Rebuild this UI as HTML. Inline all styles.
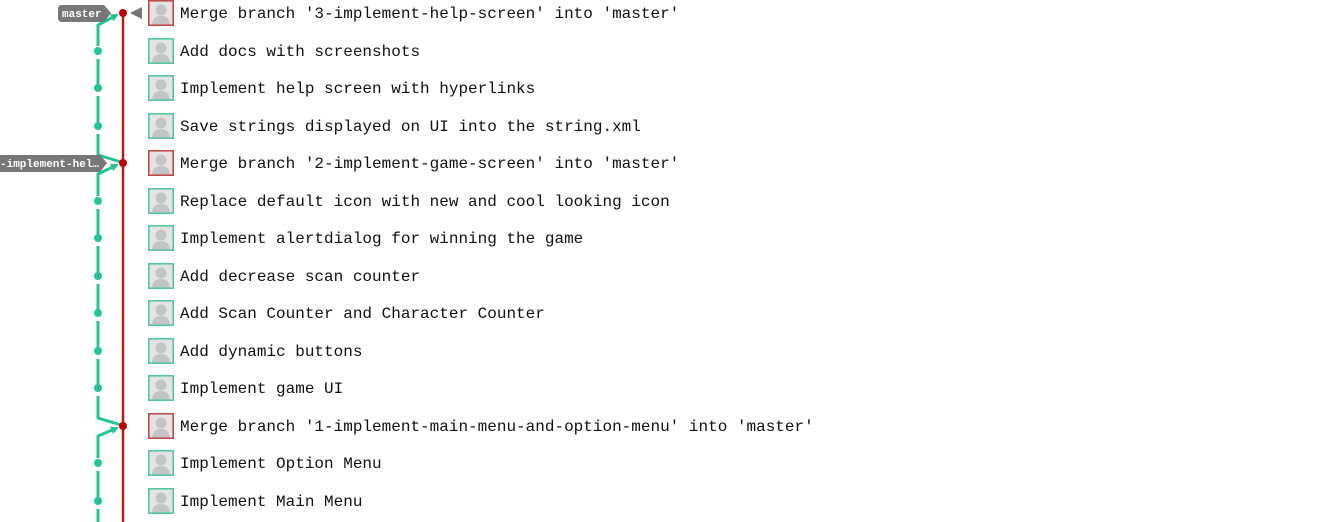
<!DOCTYPE html>
<html><head><style>
body{margin:0;background:#fff;width:1326px;height:522px;overflow:hidden}
svg{position:absolute;left:0;top:0}
text{font-family:"Liberation Mono",monospace}
.g{fill:none;stroke:#52c9a2;stroke-width:1.6}
.r{fill:none;stroke:#c44a4a;stroke-width:1.6}
</style></head><body>
<svg width="1326" height="522" viewBox="0 0 1326 522">
<defs>
<marker id="ah" markerWidth="8" markerHeight="8" refX="6" refY="4" orient="auto" markerUnits="userSpaceOnUse">
<path d="M0,0 L8,4 L0,8 z" fill="#1fc796"/>
</marker>
<g id="av">
<rect x="0" y="0" width="26" height="26" fill="#e4e4e4"/>
<circle cx="13" cy="10" r="5.5" fill="#c4c4c4"/>
<path d="M4,26 Q4,16 13,16 Q22,16 22,26 z" fill="#c4c4c4"/>
</g>
</defs>
<line x1="123" y1="13" x2="123" y2="522" stroke="#c01818" stroke-width="2.5"/>
<g stroke="#1fc796" stroke-width="3" fill="none">
<polyline points="98,46 98,25 117,15" marker-end="url(#ah)"/>
<line x1="98" y1="59" x2="98" y2="88"/>
<line x1="98" y1="96" x2="98" y2="126"/>
<polyline points="98,134 98,155 121,162"/>
<polyline points="98,196 98,174 117,165" marker-end="url(#ah)"/>
<line x1="98" y1="209" x2="98" y2="238"/>
<line x1="98" y1="246" x2="98" y2="276"/>
<line x1="98" y1="284" x2="98" y2="313"/>
<line x1="98" y1="321" x2="98" y2="351"/>
<line x1="98" y1="359" x2="98" y2="388"/>
<polyline points="98,396 98,418 121,425"/>
<polyline points="98,458 98,436 117,428" marker-end="url(#ah)"/>
<line x1="98" y1="471" x2="98" y2="501"/>
<line x1="98" y1="509" x2="98" y2="522"/>
</g>
<g fill="#1fc796">
<circle cx="98" cy="51" r="4"/><circle cx="98" cy="88" r="4"/><circle cx="98" cy="126" r="4"/>
<circle cx="98" cy="201" r="4"/><circle cx="98" cy="238" r="4"/><circle cx="98" cy="276" r="4"/>
<circle cx="98" cy="313" r="4"/><circle cx="98" cy="351" r="4"/><circle cx="98" cy="388" r="4"/>
<circle cx="98" cy="463" r="4"/><circle cx="98" cy="501" r="4"/>
</g>
<g fill="#c00000">
<circle cx="123" cy="13" r="4"/><circle cx="123" cy="163" r="4"/><circle cx="123" cy="426" r="4"/>
</g>
<path d="M62,5 H104 L111,13 L104,22 H62 Q58,22 58,18 V9 Q58,5 62,5 z" fill="#777"/>
<text x="62" y="17" font-size="11" fill="#fff" font-weight="bold">master</text>
<path d="M130,13 L142,7 L142,19 z" fill="#777"/>
<path d="M0,155 H100 L107,163 L100,172 H0 z" fill="#777"/>
<text x="0" y="167" font-size="11" fill="#fff" font-weight="bold">-implement-hel…</text>
<use href="#av" x="148" y="0"/><rect class="r" x="148.8" y="0.8" width="24.4" height="24.4"/>
<use href="#av" x="148" y="38"/><rect class="g" x="148.8" y="38.8" width="24.4" height="24.4"/>
<use href="#av" x="148" y="75"/><rect class="g" x="148.8" y="75.8" width="24.4" height="24.4"/>
<use href="#av" x="148" y="113"/><rect class="g" x="148.8" y="113.8" width="24.4" height="24.4"/>
<use href="#av" x="148" y="150"/><rect class="r" x="148.8" y="150.8" width="24.4" height="24.4"/>
<use href="#av" x="148" y="188"/><rect class="g" x="148.8" y="188.8" width="24.4" height="24.4"/>
<use href="#av" x="148" y="225"/><rect class="g" x="148.8" y="225.8" width="24.4" height="24.4"/>
<use href="#av" x="148" y="263"/><rect class="g" x="148.8" y="263.8" width="24.4" height="24.4"/>
<use href="#av" x="148" y="300"/><rect class="g" x="148.8" y="300.8" width="24.4" height="24.4"/>
<use href="#av" x="148" y="338"/><rect class="g" x="148.8" y="338.8" width="24.4" height="24.4"/>
<use href="#av" x="148" y="375"/><rect class="g" x="148.8" y="375.8" width="24.4" height="24.4"/>
<use href="#av" x="148" y="413"/><rect class="r" x="148.8" y="413.8" width="24.4" height="24.4"/>
<use href="#av" x="148" y="450"/><rect class="g" x="148.8" y="450.8" width="24.4" height="24.4"/>
<use href="#av" x="148" y="488"/><rect class="g" x="148.8" y="488.8" width="24.4" height="24.4"/>
<g font-size="16" fill="#111" xml:space="preserve">
<text x="180" y="18">Merge branch '3-implement-help-screen' into 'master'</text>
<text x="180" y="56">Add docs with screenshots</text>
<text x="180" y="93">Implement help screen with hyperlinks</text>
<text x="180" y="131">Save strings displayed on UI into the string.xml</text>
<text x="180" y="168">Merge branch '2-implement-game-screen' into 'master'</text>
<text x="180" y="206">Replace default icon with new and cool looking icon</text>
<text x="180" y="243">Implement alertdialog for winning the game</text>
<text x="180" y="281">Add decrease scan counter</text>
<text x="180" y="318">Add Scan Counter and Character Counter</text>
<text x="180" y="356">Add dynamic buttons</text>
<text x="180" y="393">Implement game UI</text>
<text x="180" y="431">Merge branch '1-implement-main-menu-and-option-menu' into 'master'</text>
<text x="180" y="468">Implement Option Menu</text>
<text x="180" y="506">Implement Main Menu</text>
</g>
</svg>
</body></html>
